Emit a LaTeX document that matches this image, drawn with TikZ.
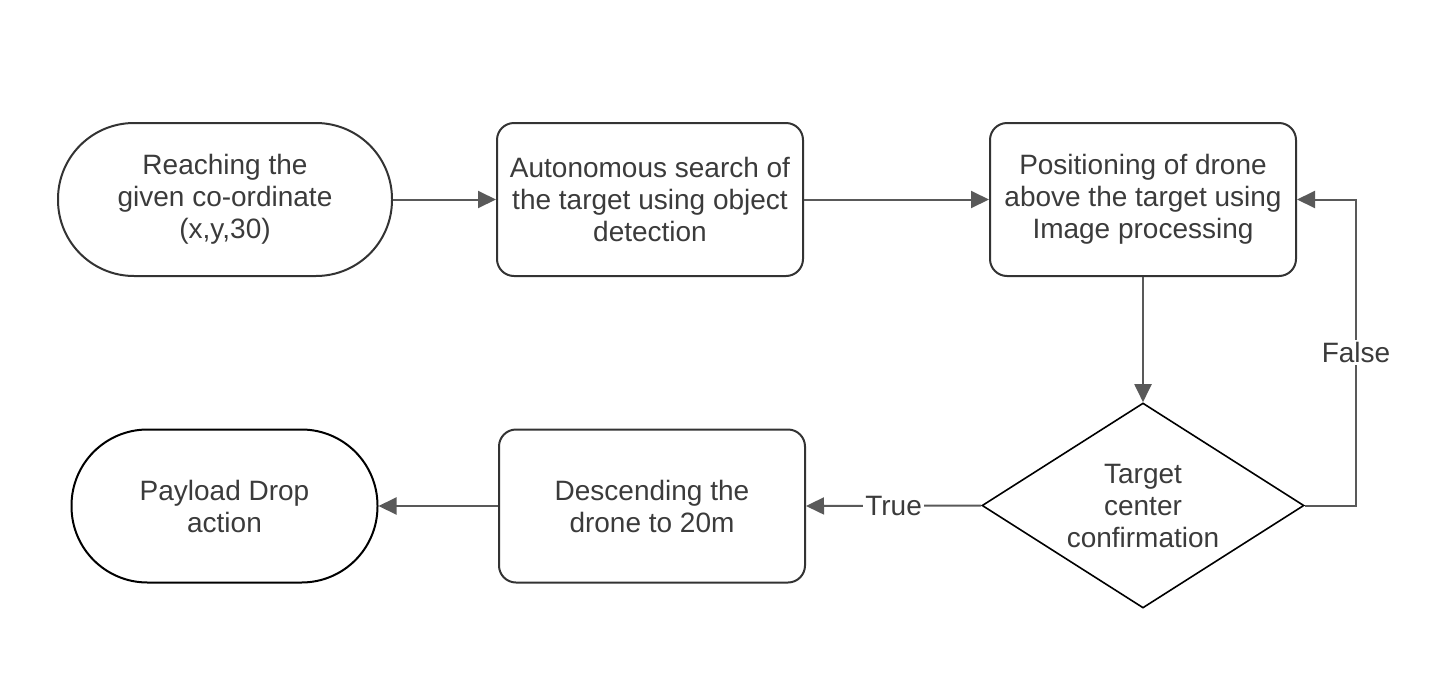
\documentclass[tikz,border=0pt]{standalone}
\usepackage{fontspec}
\setmainfont{Liberation Sans}
\usetikzlibrary{shapes.geometric,arrows.meta}
\definecolor{linegray}{HTML}{595959}
\definecolor{boxgray}{HTML}{333333}
\definecolor{textgray}{HTML}{3B3B3B}
\tikzset{
  block/.style={draw=boxgray, line width=1pt, rounded corners=8.5pt, minimum width=153pt,
    minimum height=76.5pt, align=center, text=textgray, font=\fontsize{14}{16}\selectfont},
  term/.style={block, rounded corners=38pt},
  decision/.style={diamond, draw=black, line width=0.8pt, aspect=1.57, inner sep=0pt,
    minimum width=161pt, minimum height=102.5pt, align=center, text=textgray,
    font=\fontsize{14}{16}\selectfont},
  flow/.style={draw=linegray, line width=1pt, -{Triangle[length=9pt,width=8.5pt]}},
  tag/.style={fill=white, text=textgray, inner sep=1pt, font=\fontsize{14}{16}\selectfont}
}
\begin{document}
\begin{tikzpicture}[x=0.5pt,y=-0.5pt]
        \useasboundingbox (0,0) rectangle (1448,697);
        \node[term, minimum width=167pt] (reach) at (225,199.5) {Reaching the\\given co-ordinate\\(x,y,30)};
        \node[block] (search) at (650,199.5) {Autonomous search of\\the target using object\\detection};
        \node[block] (position) at (1143,199.5) {Positioning of drone\\above the target using\\Image processing};
        \node[decision] (confirm) at (1143,505.5) {Target\\center\\confirmation};
        \node[block] (descend) at (652,506) {Descending the\\drone to 20m};
        \node[term, draw=black] (drop) at (224.5,506) {Payload Drop\\action};
        \coordinate (bend) at (1356,505.5);
        \draw[flow] (reach) -- (search);
        \draw[flow] (search) -- (position);
        \draw[flow] (position) -- (confirm);
        \draw[flow] (confirm.east) -- (bend) -- node[tag] {False} (bend |- position.east) -- (position.east);
        \draw[flow] (confirm.west) -- node[tag] {True} (descend.east);
        \draw[flow] (descend) -- (drop);
\end{tikzpicture}
\end{document}
